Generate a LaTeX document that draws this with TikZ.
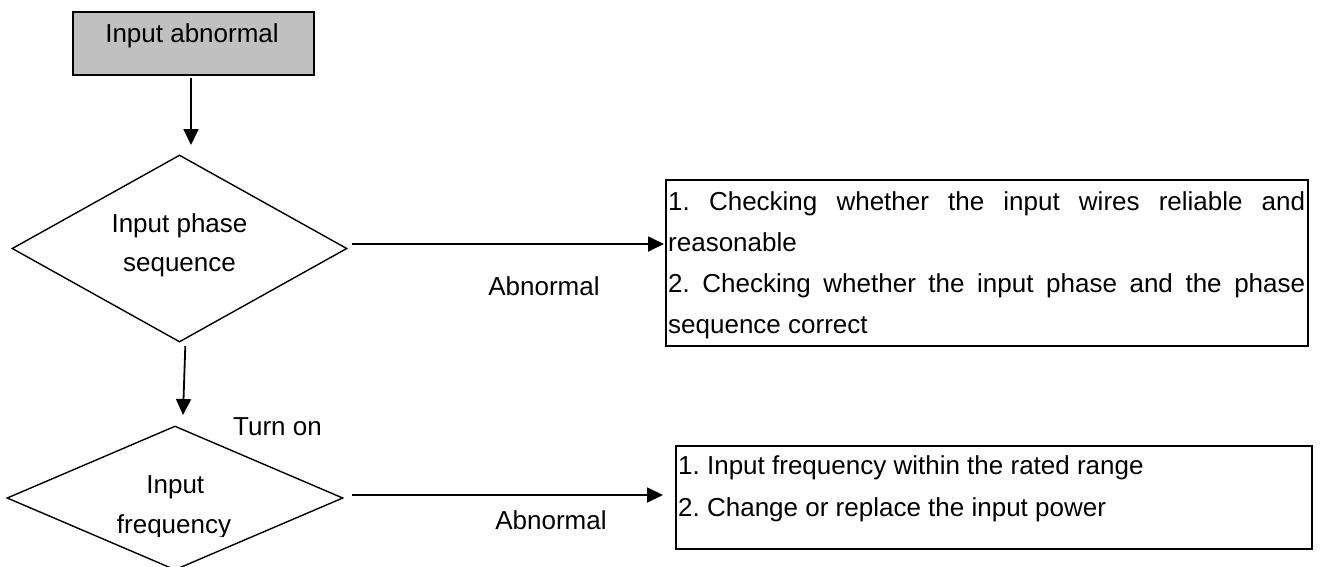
\documentclass[tikz,border=0pt]{standalone}
\usepackage{fontspec}
\setmainfont{Liberation Sans}
\usetikzlibrary{arrows.meta,shapes.geometric}
\definecolor{boxgray}{RGB}{192,192,192}
\frenchspacing
\tikzset{
  lbl/.style={font=\fontsize{26pt}{31pt}\selectfont, inner sep=0pt, anchor=base},
  boxtxt/.style={font=\fontsize{26pt}{31pt}\selectfont\frenchspacing, inner sep=0pt, anchor=base west},
  arr/.style={line width=1.8pt, -{Triangle[length=16pt,width=15pt]}},
  dec/.style={draw, shape=diamond, line width=1.4pt, inner sep=0pt},
  plainbox/.style={draw, line width=1.5pt, inner sep=0pt, anchor=north west},
}
\begin{document}
\begin{tikzpicture}[x=1pt,y=1pt]
\useasboundingbox (0,0) rectangle (1322,-566);
\clip (0,0) rectangle (1322,-566);

% start box
\node[plainbox, fill=boxgray, minimum width=241pt, minimum height=63pt] (start) at (72,-11) {};
\node[lbl] (startt) at (192,-42.3) {Input abnormal};

% decision 1
\node[dec, minimum width=335pt, minimum height=187pt] (d1) at (179.5,-248.5) {};
\node[lbl] (d1a) at (179.5,-232.3) {Input phase};
\node[lbl] (d1b) at (179.5,-271) {sequence};

% box 1
\node[plainbox, minimum width=642pt, minimum height=166pt] (b1) at (665,-179) {};
\node[boxtxt] (b1a) at (668,-210) {\makebox[637pt][s]{1. Checking whether the input wires reliable and}};
\node[boxtxt] (b1b) at (668,-251.5) {reasonable};
\node[boxtxt] (b1c) at (668,-292.5) {\makebox[637pt][s]{2. Checking whether the input phase and the phase}};
\node[boxtxt] (b1d) at (668,-333.5) {sequence correct};

% decision 2
\node[dec, minimum width=336pt, minimum height=144pt] (d2) at (175,-498) {};
\node[lbl] (d2a) at (175.3,-493.3) {Input};
\begin{scope}
\clip (0,-400) rectangle (400,-536);
\node[lbl] (d2b) at (174,-533.5) {frequency};
\end{scope}

% box 2
\node[plainbox, minimum width=636pt, minimum height=103pt] (b2) at (675,-445) {};
\node[boxtxt] (b2a) at (678,-474.5) {1. Input frequency within the rated range};
\node[boxtxt] (b2b) at (678,-516) {2. Change or replace the input power};

% labels
\node[lbl] (ab1) at (544,-295) {Abnormal};
\node[lbl] (turn) at (277.5,-435.7) {Turn on};
\node[lbl] (ab2) at (551,-529.3) {Abnormal};

% connector end points
\coordinate (a1s) at (191,-78);
\coordinate (a1e) at (191,-145);
\coordinate (a2s) at (352,-244);
\coordinate (a2e) at (664,-244);
\coordinate (a3s) at (185.3,-346);
\coordinate (a3e) at (183,-415);
\coordinate (a4s) at (352,-495);
\coordinate (a4e) at (663,-495);

\draw[arr] (a1s) -- (a1e);
\draw[arr] (a2s) -- (a2e);
\draw[arr] (a3s) -- (a3e);
\draw[arr] (a4s) -- (a4e);
\end{tikzpicture}
\end{document}
